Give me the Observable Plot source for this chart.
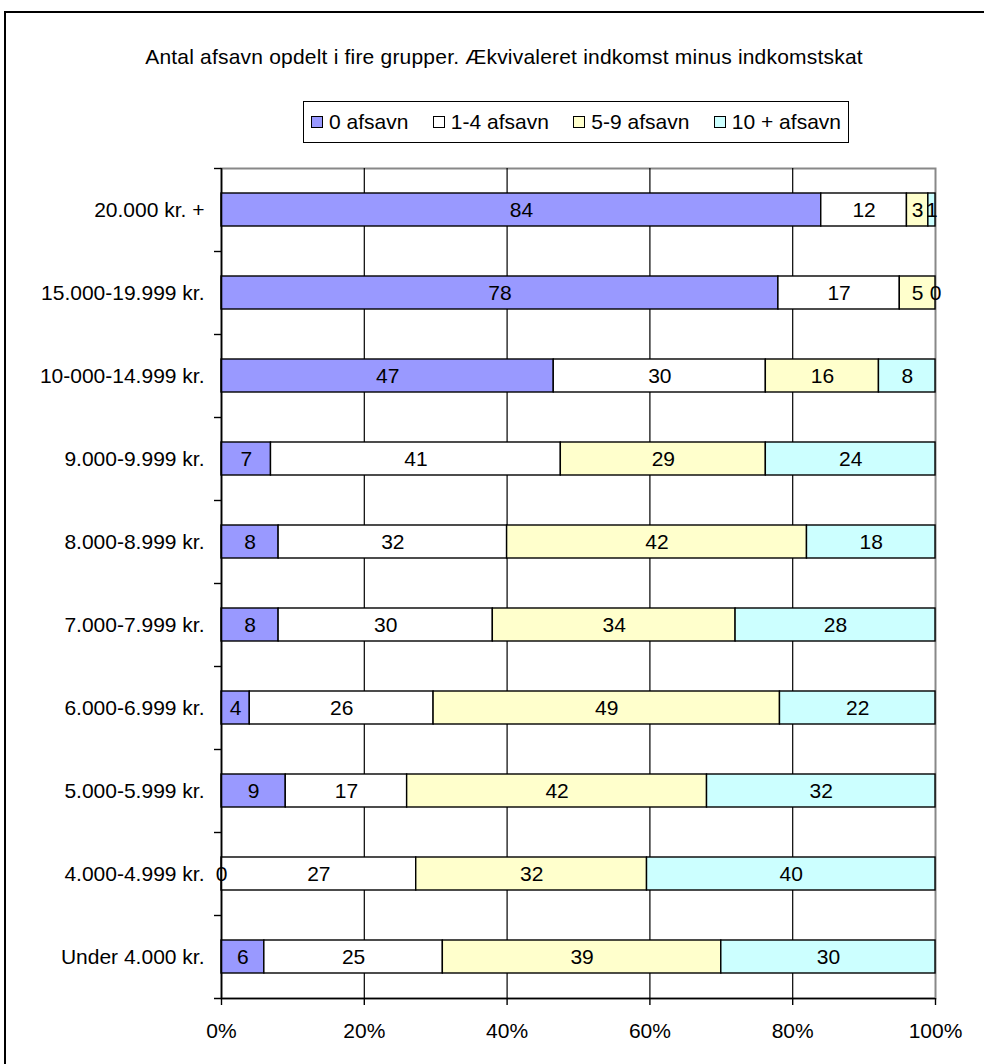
<!DOCTYPE html>
<html>
<head>
<meta charset="utf-8">
<script src="https://cdn.jsdelivr.net/npm/d3@7"></script>
<script src="https://cdn.jsdelivr.net/npm/@observablehq/plot@0.6"></script>
<style>
  html, body { margin: 0; padding: 0; background: white; }
  body { width: 984px; height: 1064px; overflow: hidden; position: relative; font-family: Arial, "Liberation Sans", sans-serif; }
  #frame { position: absolute; left: 4px; top: 11px; width: 1000px; height: 1100px; border-left: 2px solid #000; border-top: 2px solid #000; pointer-events: none; z-index: 5; }
  #header { position: relative; height: 150px; }
  #title { position: absolute; left: 0; width: 1008px; top: 44px; line-height: 26px; text-align: center; font-size: 21px; color: #000; letter-spacing: 0.2px; }
  #legend { position: absolute; left: 303px; top: 101px; width: 546px; height: 42px; border: 1.5px solid #000; box-sizing: border-box; display: flex; align-items: center; justify-content: space-between; padding: 0 7px 0 7px; font-size: 21px; }
  .item { display: flex; align-items: center; }
  .sw { width: 10px; height: 10px; border: 1px solid #000; margin-right: 6px; }
</style>
</head>
<body>
<div id="frame"></div>
<div id="header">
  <div id="title"></div>
  <div id="legend"></div>
</div>
<div id="chart"></div>
<script>
const categories = ["20.000 kr. +", "15.000-19.999 kr.", "10-000-14.999 kr.", "9.000-9.999 kr.", "8.000-8.999 kr.", "7.000-7.999 kr.", "6.000-6.999 kr.", "5.000-5.999 kr.", "4.000-4.999 kr.", "Under 4.000 kr."];
const seriesNames = ["0 afsavn", "1-4 afsavn", "5-9 afsavn", "10 + afsavn"];
const afsavn0 = [84, 78, 47, 7, 8, 8, 4, 9, 0, 6];
const afsavn1_4 = [12, 17, 30, 41, 32, 30, 26, 17, 27, 25];
const afsavn5_9 = [3, 5, 16, 29, 42, 34, 49, 42, 32, 39];
const afsavn10 = [1, 0, 8, 24, 18, 28, 22, 32, 40, 30];
const seriesColors = ["#9999FF", "#FFFFFF", "#FFFFCC", "#CCFFFF"];
const xTicks = [0, 0.2, 0.4, 0.6, 0.8, 1];
const titleText = "Antal afsavn opdelt i fire grupper. Ækvivaleret indkomst minus indkomstskat";

document.getElementById("title").textContent = titleText;
const legend = document.getElementById("legend");
seriesNames.forEach((s, i) => {
  const it = document.createElement("div");
  it.className = "item";
  const sw = document.createElement("div");
  sw.className = "sw";
  sw.style.background = seriesColors[i];
  const t = document.createElement("span");
  t.textContent = s;
  it.appendChild(sw); it.appendChild(t);
  legend.appendChild(it);
});

const seriesValues = [afsavn0, afsavn1_4, afsavn5_9, afsavn10];
const data = [];
seriesNames.forEach((s, si) => {
  categories.forEach((c, ci) => {
    data.push({cat: c, series: s, value: seriesValues[si][ci]});
  });
});

const H = 914, mTop = 18, mBottom = 66;
const step = (H - mTop - mBottom) / categories.length;
const tickLen = 7 / 714;

const chart = Plot.plot({
  width: 984,
  height: H,
  marginLeft: 221,
  marginRight: 49,
  marginTop: mTop,
  marginBottom: mBottom,
  style: {background: "transparent", fontFamily: "Arial, 'Liberation Sans', sans-serif", fontSize: "21px", color: "#000"},
  x: {domain: [0, 1], axis: null, label: null},
  y: {domain: categories, paddingInner: 0.6, paddingOuter: 0.3, axis: null, label: null},
  color: {domain: seriesNames, range: seriesColors},
  marks: [
    Plot.frame({stroke: "#888", strokeWidth: 2}),
    Plot.ruleX([0.2, 0.4, 0.6, 0.8], {stroke: "#000", strokeWidth: 1.2}),
    Plot.barX(data, Plot.stackX({x: "value", y: "cat", z: "series", offset: "normalize", fill: "series", stroke: "#000", strokeWidth: 1.4})),
    Plot.text(data, Plot.stackX({x: "value", y: "cat", z: "series", offset: "normalize", text: d => String(d.value), fill: "#000", fontSize: 21})),
    Plot.ruleX([0], {stroke: "#000", strokeWidth: 1.6}),
    Plot.ruleY(categories, {y: d => d, x1: -tickLen, x2: 0, dy: -step / 2, stroke: "#000", strokeWidth: 1.4}),
    Plot.ruleY([categories[categories.length - 1]], {y: d => d, x1: -tickLen, x2: 1, dy: step / 2, stroke: "#000", strokeWidth: 1.6}),
    Plot.axisX({ticks: xTicks, tickFormat: d3.format(".0%"), tickSize: 7, tickPadding: 18, fontSize: 21, stroke: "#000", strokeWidth: 1.4, fill: "#000", label: null}),
    Plot.axisY({tickSize: 0, tickPadding: 17, fontSize: 21, fill: "#000", label: null})
  ]
});
document.getElementById("chart").appendChild(chart);
</script>
</body>
</html>
